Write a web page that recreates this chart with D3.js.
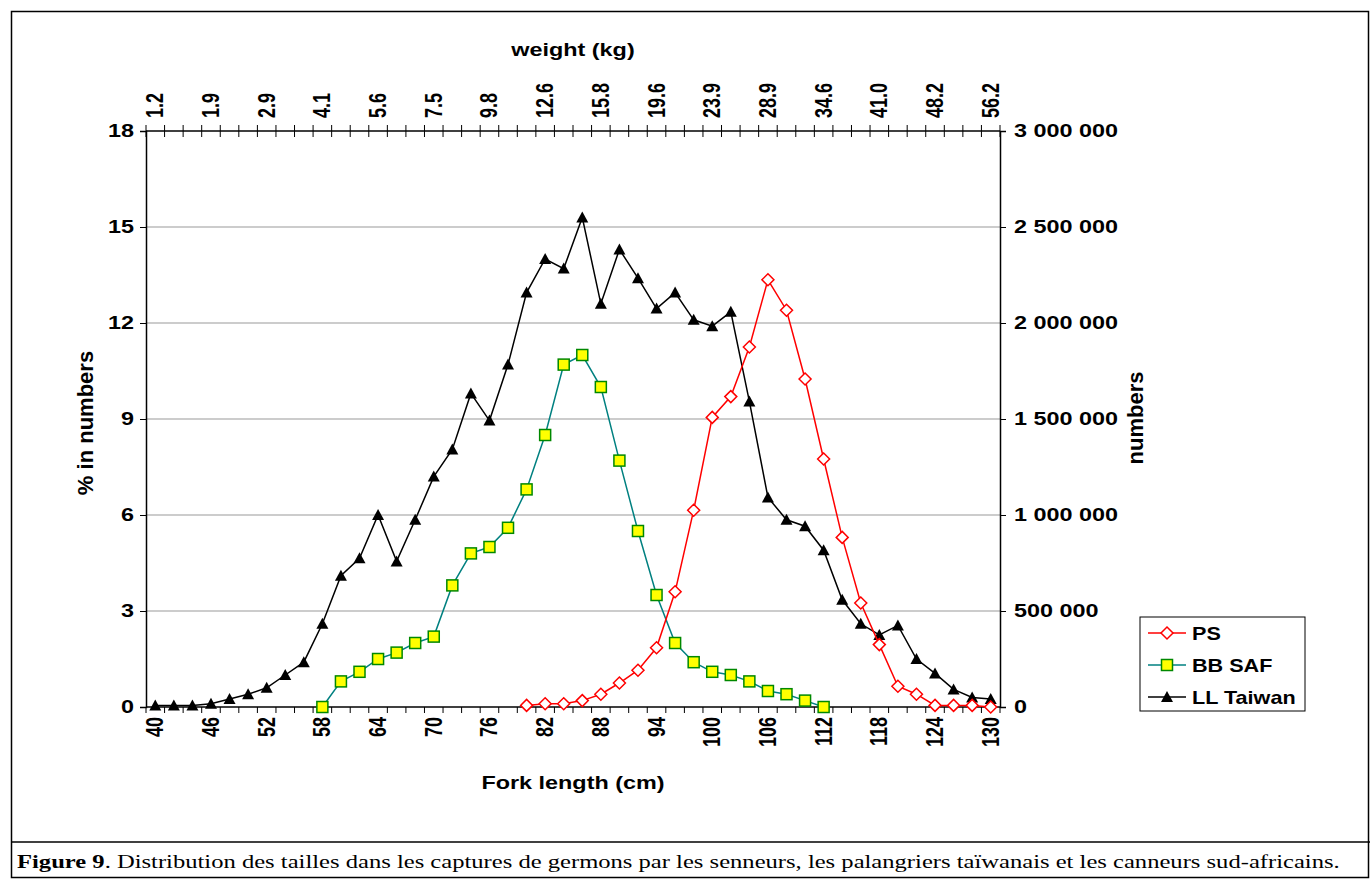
<!DOCTYPE html>
<html><head><meta charset="utf-8">
<script src="https://cdn.jsdelivr.net/npm/d3@7"></script>
<style>body{margin:0;background:#fff}text{font-family:"Liberation Sans",Arial,sans-serif}</style>
</head><body><svg id="c" width="1371" height="879"></svg>
<script>
const lengths = d3.range(40, 131, 2);
const weights = ["1.2","1.9","2.9","4.1","5.6","7.5","9.8","12.6","15.8","19.6","23.9","28.9","34.6","41.0","48.2","56.2"];
const llTaiwan = [0.05,0.05,0.05,0.1,0.25,0.4,0.6,1.0,1.4,2.6,4.1,4.65,6.0,4.55,5.85,7.2,8.05,9.8,8.95,10.7,12.95,14.0,13.7,15.3,12.6,14.3,13.4,12.45,12.95,12.1,11.9,12.35,9.55,6.55,5.85,5.65,4.9,3.35,2.6,2.25,2.55,1.5,1.05,0.55,0.3,0.25];
const bbLengths = d3.range(58, 113, 2);
const bbSaf = [0,0.8,1.1,1.5,1.7,2.0,2.2,3.8,4.8,5.0,5.6,6.8,8.5,10.7,11.0,10.0,7.7,5.5,3.5,2.0,1.4,1.1,1.0,0.8,0.5,0.4,0.2,0];
const psLengths = d3.range(80, 131, 2);
const ps = [0.05,0.1,0.1,0.2,0.4,0.75,1.15,1.85,3.6,6.15,9.05,9.7,11.25,13.35,12.4,10.25,7.75,5.3,3.25,1.95,0.65,0.4,0.05,0.05,0.05,0];
const leftTicks = [0,3,6,9,12,15,18];
const rightTicks = [0,500000,1000000,1500000,2000000,2500000,3000000];

const svg = d3.select("#c");
const L=146,R=1000,T=131,B=707;
const x = d3.scaleBand().domain(lengths).range([L,R]);
const cx = v => x(v)+x.bandwidth()/2;
const y = d3.scaleLinear().domain([0,18]).range([B,T]);
const y2 = d3.scaleLinear().domain([0,3000000]).range([B,T]);
const FS = "18px", SX = 1.3;

svg.append("rect").attr("x",11.5).attr("y",11.5).attr("width",1357).attr("height",866).attr("fill","none").attr("stroke","#000").attr("stroke-width",1.5);
svg.append("line").attr("x1",11).attr("x2",1370).attr("y1",842).attr("y2",842).attr("stroke","#000").attr("stroke-width",1.5);
const cap = svg.append("text").attr("transform","translate(17,868) scale(1.33,1)").style("font-family","'Liberation Serif','Times New Roman',serif").style("font-size","18.5px");
cap.append("tspan").attr("font-weight","bold").text("Figure 9");
cap.append("tspan").text(". Distribution des tailles dans les captures de germons par les senneurs, les palangriers taïwanais et les canneurs sud-africains.");

svg.append("g").selectAll("line").data(leftTicks.slice(1,-1)).join("line")
 .attr("x1",L).attr("x2",R).attr("y1",d=>y(d)).attr("y2",d=>y(d)).attr("stroke","#999").attr("stroke-width",1.2);

function hText(g){
  g.selectAll(".tick text").each(function(){
    const t=d3.select(this); const xx=+t.attr("x");
    t.attr("x",null).attr("transform",`translate(${xx},0) scale(${SX},1)`);
  });
}
const la = svg.append("g").attr("transform",`translate(${L},0)`).call(d3.axisLeft(y).tickValues(leftTicks).tickSize(6).tickPadding(6));
la.select(".domain").attr("stroke","#000").attr("stroke-width",1.5);
la.selectAll("text").style("font-size",FS).style("font-weight","bold").style("font-family","'Liberation Sans',Arial,sans-serif");
hText(la);
const ra = svg.append("g").attr("transform",`translate(${R},0)`).call(d3.axisRight(y2).tickValues(rightTicks).tickSize(6).tickPadding(8)
  .tickFormat(d=>d3.format(",")(d).replace(/,/g," ")));
ra.select(".domain").attr("stroke","#000").attr("stroke-width",1.5);
ra.selectAll("text").style("font-size",FS).style("font-weight","bold").style("font-family","'Liberation Sans',Arial,sans-serif");
hText(ra);

const bg = svg.append("g");
bg.append("line").attr("x1",L).attr("x2",R).attr("y1",B).attr("y2",B).attr("stroke","#000").attr("stroke-width",1.5);
bg.selectAll("line.t").data(d3.range(lengths.length+1)).join("line").attr("class","t")
 .attr("x1",i=>L+i*x.bandwidth()).attr("x2",i=>L+i*x.bandwidth()).attr("y1",B).attr("y2",B+6).attr("stroke","#000");
bg.selectAll("text").data(lengths.filter((d,i)=>i%3===0)).join("text")
 .attr("transform",d=>`translate(${cx(d)+8},${B+10}) scale(${SX},1) rotate(-90)`).attr("text-anchor","end")
 .style("font-size",FS).style("font-weight","bold").text(d=>d);

const tg = svg.append("g");
tg.append("line").attr("x1",L).attr("x2",R).attr("y1",T).attr("y2",T).attr("stroke","#000").attr("stroke-width",1.5);
tg.selectAll("line.t").data(d3.range(lengths.length+1)).join("line").attr("class","t")
 .attr("x1",i=>L+i*x.bandwidth()).attr("x2",i=>L+i*x.bandwidth()).attr("y1",T-6).attr("y2",T+6).attr("stroke","#000");
tg.selectAll("text").data(weights).join("text")
 .attr("transform",(d,i)=>`translate(${cx(lengths[i*3])+8},${T-13}) scale(${SX},1) rotate(-90)`).attr("text-anchor","start")
 .style("font-size",FS).style("font-weight","bold").text(d=>d);

const tb = (t,xx,yy)=>svg.append("text").attr("transform",`translate(${xx},${yy}) scale(${SX},1)`).attr("text-anchor","middle").style("font-size","18px").style("font-weight","bold").text(t);
const tv = (t,xx,yy)=>svg.append("text").attr("transform",`translate(${xx},${yy}) rotate(-90)`).attr("text-anchor","middle").style("font-size","22px").style("font-weight","bold").text(t);
tb("weight (kg)",573,56);
tb("Fork length (cm)",573,789);
tv("% in numbers",93,423);
tv("numbers",1143,418);

const line = d3.line().x(d=>cx(d[0])).y(d=>y(d[1]));
function series(xs, ys, color, marker){
  const pts = xs.map((v,i)=>[v,ys[i]]);
  svg.append("path").datum(pts).attr("d",line).attr("fill","none").attr("stroke",color).attr("stroke-width",1.5);
  const g = svg.append("g");
  pts.forEach(p=>marker(g, cx(p[0]), y(p[1])));
}
const diamond=(g,px,py)=>g.append("path").attr("d",`M${px},${py-6}L${px+6},${py}L${px},${py+6}L${px-6},${py}Z`).attr("fill","#fff").attr("stroke","#f00").attr("stroke-width",1.5);
const square=(g,px,py)=>g.append("rect").attr("x",px-5.5).attr("y",py-5.5).attr("width",11).attr("height",11).attr("fill","#ff0").attr("stroke","#080").attr("stroke-width",1.5);
const tri=(g,px,py)=>g.append("path").attr("d",`M${px},${py-6}L${px+6},${py+5}L${px-6},${py+5}Z`).attr("fill","#000");

series(lengths, llTaiwan, "#000", tri);
series(bbLengths, bbSaf, "#008080", square);
series(psLengths, ps, "#f00", diamond);

const lg = svg.append("g").attr("transform","translate(1140,617)");
lg.append("rect").attr("width",165).attr("height",94).attr("fill","#fff").attr("stroke","#000");
const items=[["PS","#f00",diamond],["BB SAF","#008080",square],["LL Taiwan","#000",tri]];
items.forEach((it,i)=>{
  const yy=16+i*32;
  lg.append("line").attr("x1",8).attr("x2",46).attr("y1",yy).attr("y2",yy).attr("stroke",it[1]).attr("stroke-width",1.5);
  it[2](lg,27,yy);
  lg.append("text").attr("transform",`translate(52,${yy+7}) scale(1.2,1)`).style("font-size","18px").style("font-weight","bold").text(it[0]);
});
</script></body></html>
